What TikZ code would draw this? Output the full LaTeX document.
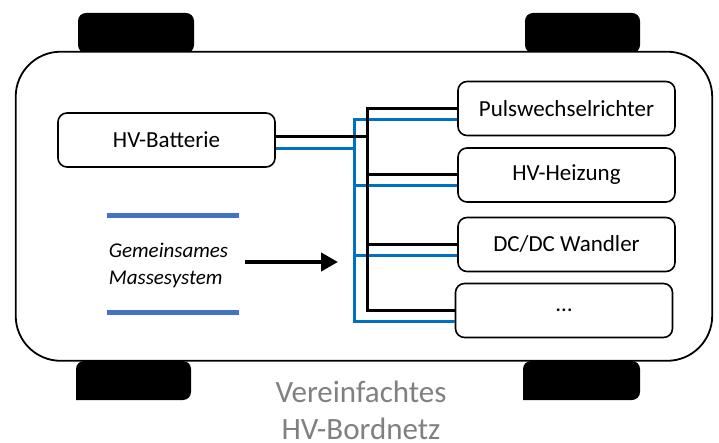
\documentclass[tikz,border=0pt]{standalone}
\usepackage{fontspec}
\setmainfont{Carlito}
\usepackage{xcolor}
\definecolor{hvblau}{RGB}{0,112,192}
\definecolor{masseblau}{RGB}{68,114,196}
\definecolor{beschriftung}{RGB}{128,128,128}
\usetikzlibrary{arrows.meta}

\begin{document}
\begin{tikzpicture}[x=1pt, y=-1pt,
    rad/.style={fill=black, rounded corners=8pt},
    karosserie/.style={draw=black, line width=1.8pt, fill=white, rounded corners=45pt},
    komponente/.style={rectangle, rounded corners=9pt, draw=black, line width=1.6pt, fill=white, minimum width=217pt, minimum height=54pt, font=\fontsize{23}{27}\selectfont},
    plusleitung/.style={line width=3pt, draw=black},
    minusleitung/.style={line width=3pt, draw=hvblau},
    masselinie/.style={line width=5pt, draw=masseblau},
    pfeil/.style={line width=4.5pt, -{Triangle[length=17pt, width=18pt]}}
]
    \useasboundingbox (0,0) rectangle (719,443);

    % Raeder und Karosserie
    \fill[rad] (78,13) rectangle (194,53);
    \fill[rad] (525,13) rectangle (640,53);
    \fill[rad] (76,400) -- (76,361) -- (191,361) -- (191,400) [sharp corners] -- cycle;
    \fill[rad] (523,400) -- (523,361) -- (640,361) -- (640,400) [sharp corners] -- cycle;
    \draw[karosserie] (15.7,51.7) rectangle (712.2,360.8);

    % Komponenten
    \node (batterie) [komponente] at (166.5,140) {HV-Batterie};
    \node (pwr) [komponente] at (566.5,108.5) {Pulswechselrichter};
    \node (heizung) [komponente] at (566.5,175) {HV-Heizung};
    \node (dcdc) [komponente] at (566.5,244.5) {DC/DC Wandler};
    \node (weitere) [komponente] at (564,310.5) {…};

    % HV+ (schwarz) und HV- (blau)
    \foreach \ziel in {pwr, heizung, dcdc, weitere} {
        \draw[minusleitung] ([yshift=-9pt]batterie.east) -- ++(79,0) |- ([yshift=-11pt]\ziel.west);
        \draw[plusleitung] ([yshift=3pt]batterie.east) -- ++(92,0) |- (\ziel.west);
    }

    % Masse
    \node (masse) [inner sep=0pt, align=left, font=\fontsize{21}{27}\selectfont\itshape] at (168.5,265) {Gemeinsames\\Massesystem};
    \draw[masselinie] ([shift={(-62,-49)}]masse.center) -- ++(132,0);
    \draw[masselinie] ([shift={(-62,47)}]masse.center) -- ++(132,0);
    \coordinate (sammel) at (338,262);
    \draw[pfeil] (masse.east |- sammel) ++(17,0) -- (sammel);

    % Titel
    \node (titel) [anchor=base, inner sep=0pt, align=center, text=beschriftung, font=\fontsize{31}{37}\selectfont] at (361,439) {Vereinfachtes\\HV-Bordnetz};
\end{tikzpicture}
\end{document}
